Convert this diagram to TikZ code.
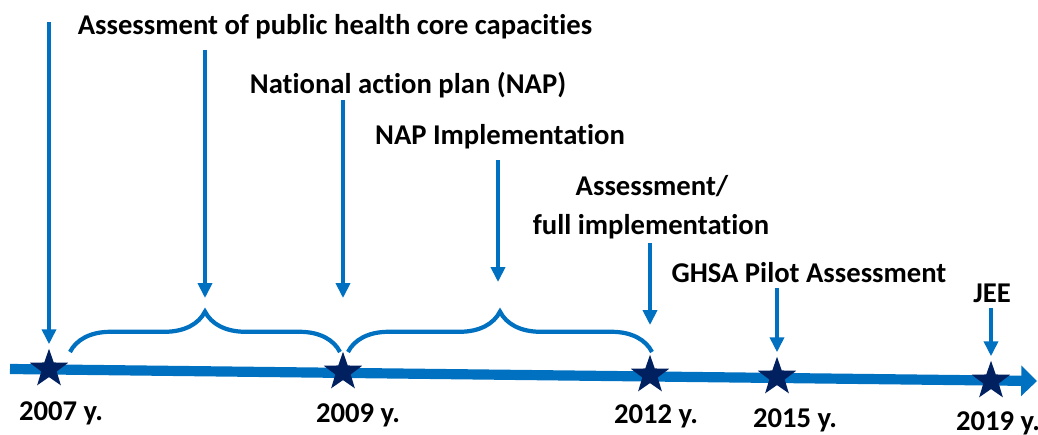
\documentclass[tikz,border=0pt]{standalone}
\usepackage{fontspec}
\setmainfont{Carlito}[RawFeature=-liga]
\usetikzlibrary{arrows.meta,shapes.geometric,decorations.pathreplacing}
\definecolor{lineblue}{RGB}{0,112,192}
\definecolor{starblue}{RGB}{0,32,96}

\begin{document}
\begin{tikzpicture}[x=0.02cm,y=-0.02cm,
    font=\fontsize{16.3}{19}\selectfont\bfseries,
    event/.style={-{Triangle[length=8.5pt,width=8pt]},lineblue,line width=2pt},
    span/.style={lineblue,line width=2.4pt,decorate,decoration={brace,amplitude=23pt}},
    milestone/.style={star,star points=5,star point ratio=2.5,fill=starblue,minimum size=23pt,inner sep=0pt}]

            \useasboundingbox (0,0) rectangle (1038,435);

            \coordinate (start) at (10,369);
            \coordinate (end) at (1037,381);
            \draw[lineblue,line width=5.8pt,-{Triangle[length=9pt,width=17pt]}] (start) -- (end);

            \node[milestone] (s07) at (49,369) {};
            \node[milestone] (s09) at (343,372) {};
            \node[milestone] (s12) at (650,375) {};
            \node[milestone] (s15) at (777,377) {};
            \node[milestone] (s19) at (991,381) {};

            \node (y07) at (61,413) {2007 y.};
            \node (y09) at (358,415) {2009 y.};
            \node (y12) at (656,416) {2012 y.};
            \node (y15) at (795,420) {2015 y.};
            \node (y19) at (998,423) {2019 y.};

            \node (t1) at (335,27) {Assessment of public health core capacities};
            \node (t2) at (408,85) {National action plan (NAP)};
            \node (t3) at (500,137) {NAP Implementation};
            \node (t4) at (652,186) {Assessment/};
            \node (t5) at (651,227) {full implementation};
            \node (t6) at (809,273) {GHSA Pilot Assessment};
            \node (t7) at (992,293) {JEE};

            \coordinate (b1l) at (70,352);
            \coordinate (b1r) at (340,352);
            \coordinate (b2l) at (348,352);
            \coordinate (b2r) at (652,352);
            \draw[span] (b1l) -- (b1r);
            \draw[span] (b2l) -- (b2r);

            \coordinate (a07) at (49,22);
            \coordinate (a1) at (205,50);
            \coordinate (tip1) at (205,298);
            \coordinate (a09) at (343,100);
            \coordinate (tip09) at (343,298);
            \coordinate (a2) at (498,160);
            \coordinate (tip2) at (498,282);
            \coordinate (a12) at (650,243);
            \coordinate (tip12) at (650,325);
            \coordinate (a15) at (777,288);
            \coordinate (a19) at (991,308);

            \draw[event,shorten >=2pt] (a07) -- (s07);
            \draw[event] (a1) -- (tip1);
            \draw[event] (a09) -- (tip09);
            \draw[event] (a2) -- (tip2);
            \draw[event] (a12) -- (tip12);
            \draw[event,shorten >=2pt] (a15) -- (s15);
            \draw[event,shorten >=2pt] (a19) -- (s19);

\end{tikzpicture}
\end{document}
